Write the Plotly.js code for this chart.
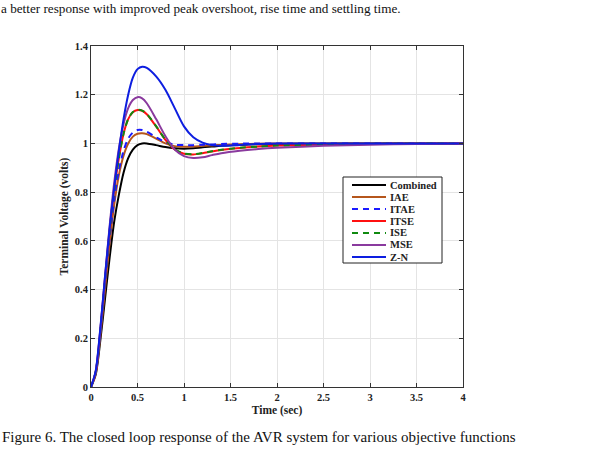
<!DOCTYPE html>
<html>
<head>
<meta charset="utf-8">
<script src="https://cdn.plot.ly/plotly-3.0.1.min.js"></script>
<style>
  html, body { margin: 0; padding: 0; background: #fff; }
  #plot { width: 589px; height: 452px; }
</style>
</head>
<body>
<div id="plot"></div>
<script>
// Time samples (s)
const time = [0, 0.05, 0.1, 0.15, 0.2, 0.25, 0.3, 0.35, 0.4, 0.45, 0.5, 0.55, 0.6, 0.7, 0.8, 0.9, 1.0, 1.1, 1.2, 1.3, 1.4, 1.6, 1.8, 2.0, 2.5, 3.0, 3.5, 4.0];

// Terminal voltage responses (volts) for each tuning objective
const combined = [0, 0.05, 0.19, 0.36, 0.53, 0.68, 0.79, 0.88, 0.94, 0.975, 0.993, 1.0, 1.0, 0.993, 0.985, 0.98, 0.978, 0.98, 0.984, 0.987, 0.99, 0.994, 0.997, 0.998, 0.999, 1.0, 1.0, 1.0];
const iae      = [0, 0.055, 0.21, 0.40, 0.59, 0.75, 0.87, 0.95, 1.0, 1.028, 1.04, 1.042, 1.038, 1.02, 1.0, 0.989, 0.986, 0.987, 0.99, 0.992, 0.994, 0.997, 0.999, 1.0, 1.0, 1.0, 1.0, 1.0];
const itae     = [0, 0.058, 0.22, 0.42, 0.61, 0.77, 0.89, 0.97, 1.02, 1.045, 1.055, 1.055, 1.048, 1.025, 1.005, 0.995, 0.993, 0.993, 0.995, 0.996, 0.998, 0.999, 1.0, 1.0, 1.0, 1.0, 1.0, 1.0];
const itse     = [0, 0.06, 0.23, 0.44, 0.64, 0.81, 0.94, 1.04, 1.10, 1.128, 1.137, 1.134, 1.12, 1.07, 1.015, 0.975, 0.958, 0.955, 0.96, 0.967, 0.973, 0.981, 0.987, 0.991, 0.995, 0.998, 0.999, 1.0];
const ise      = [0, 0.06, 0.23, 0.44, 0.64, 0.81, 0.94, 1.04, 1.10, 1.129, 1.138, 1.135, 1.121, 1.071, 1.016, 0.976, 0.959, 0.956, 0.961, 0.968, 0.974, 0.982, 0.987, 0.991, 0.995, 0.998, 0.999, 1.0];
const mse      = [0, 0.062, 0.235, 0.45, 0.66, 0.84, 0.98, 1.08, 1.145, 1.178, 1.19, 1.185, 1.165, 1.10, 1.03, 0.975, 0.948, 0.94, 0.943, 0.952, 0.96, 0.97, 0.977, 0.982, 0.99, 0.995, 0.998, 1.0];
const zn       = [0, 0.065, 0.24, 0.45, 0.65, 0.82, 0.97, 1.10, 1.20, 1.27, 1.305, 1.315, 1.31, 1.275, 1.22, 1.145, 1.07, 1.025, 1.003, 0.993, 0.99, 0.994, 0.998, 1.0, 1.0, 1.0, 1.0, 1.0];

// Axis ticks
const xTicks = [0, 0.5, 1, 1.5, 2, 2.5, 3, 3.5, 4];
const xTickText = ['0', '0.5', '1', '1.5', '2', '2.5', '3', '3.5', '4'];
const yTicks = [0, 0.2, 0.4, 0.6, 0.8, 1, 1.2, 1.4];
const yTickText = ['0', '0.2', '0.4', '0.6', '0.8', '1', '1.2', '1.4'];

const serif = '"Liberation Serif", "Times New Roman", serif';
const ink = '#222';

// Plot box in pixels, used to place the compact legend in paper units
const W = 589, H = 452;
const M = { l: 91, r: 126, t: 46, b: 65 };
const pw = W - M.l - M.r, ph = H - M.t - M.b;
const px = v => (v - M.l) / pw;
const py = v => (H - M.b - v) / ph;

function series(name, y, color, dash) {
  return {
    x: time, y: y, name: name, type: 'scatter', mode: 'lines', showlegend: false,
    line: { color: color, width: 2, dash: dash || 'solid', shape: 'spline', smoothing: 0.8 }
  };
}

const traces = [
  series('Combined', combined, '#000000'),
  series('IAE', iae, '#b5561c'),
  series('ITAE', itae, '#1a1aff', '6px,5px'),
  series('ITSE', itse, '#ff1010'),
  series('ISE', ise, '#108a10', '6px,5px'),
  series('MSE', mse, '#8a3a9e'),
  series('Z-N', zn, '#0d1ee0')
];

// Compact boxed legend (tight row spacing)
const shapes = [{
  type: 'rect', xref: 'paper', yref: 'paper',
  x0: px(343), x1: px(442), y0: py(177), y1: py(263),
  line: { color: ink, width: 1 }, fillcolor: '#fff', layer: 'above'
}];
const annotations = [];
traces.forEach((t, i) => {
  const yc = 185 + i * 12;
  shapes.push({
    type: 'line', xref: 'paper', yref: 'paper',
    x0: px(352), x1: px(386), y0: py(yc), y1: py(yc),
    line: { color: t.line.color, width: 2, dash: t.line.dash }, layer: 'above'
  });
  annotations.push({
    text: t.name, xref: 'paper', yref: 'paper', x: px(388), y: py(yc),
    xanchor: 'left', yanchor: 'middle', showarrow: false,
    font: { family: serif, size: 10.5, color: ink, weight: 'bold' }
  });
});

annotations.push(
  {
    text: 'a better response with improved peak overshoot, rise time and settling time.',
    xref: 'paper', yref: 'paper', x: px(0), y: py(0),
    xanchor: 'left', yanchor: 'top', showarrow: false, borderpad: 0,
    font: { family: serif, size: 13.2, color: '#111' }
  },
  {
    text: 'Figure 6. The closed loop response of the AVR system for various objective functions',
    xref: 'paper', yref: 'paper', x: px(0), y: py(437),
    xanchor: 'left', yanchor: 'middle', showarrow: false,
    font: { family: serif, size: 15, color: '#111' }
  }
);

const axisCommon = {
  showline: true, linecolor: '#333', linewidth: 1, mirror: 'allticks',
  ticks: 'inside', ticklen: 4, tickcolor: '#333',
  showgrid: true, gridcolor: '#e4e4e4', gridwidth: 1, zeroline: false,
  tickfont: { family: serif, size: 10.5, color: ink, weight: 'bold' }
};

const layout = {
  width: W, height: H,
  margin: M,
  paper_bgcolor: '#fff', plot_bgcolor: '#fff',
  font: { family: serif, color: ink },
  showlegend: false,
  xaxis: Object.assign({}, axisCommon, {
    range: [0, 4], tickvals: xTicks, ticktext: xTickText,
    title: { text: 'Time (sec)', font: { family: serif, size: 11.5, color: ink, weight: 'bold' }, standoff: 4 }
  }),
  yaxis: Object.assign({}, axisCommon, {
    range: [0, 1.4], tickvals: yTicks, ticktext: yTickText,
    title: { text: 'Terminal Voltage (volts)', font: { family: serif, size: 11.5, color: ink, weight: 'bold' }, standoff: 3 }
  }),
  shapes: shapes,
  annotations: annotations
};

Plotly.newPlot('plot', traces, layout, { displayModeBar: false, staticPlot: true });
</script>
</body>
</html>
